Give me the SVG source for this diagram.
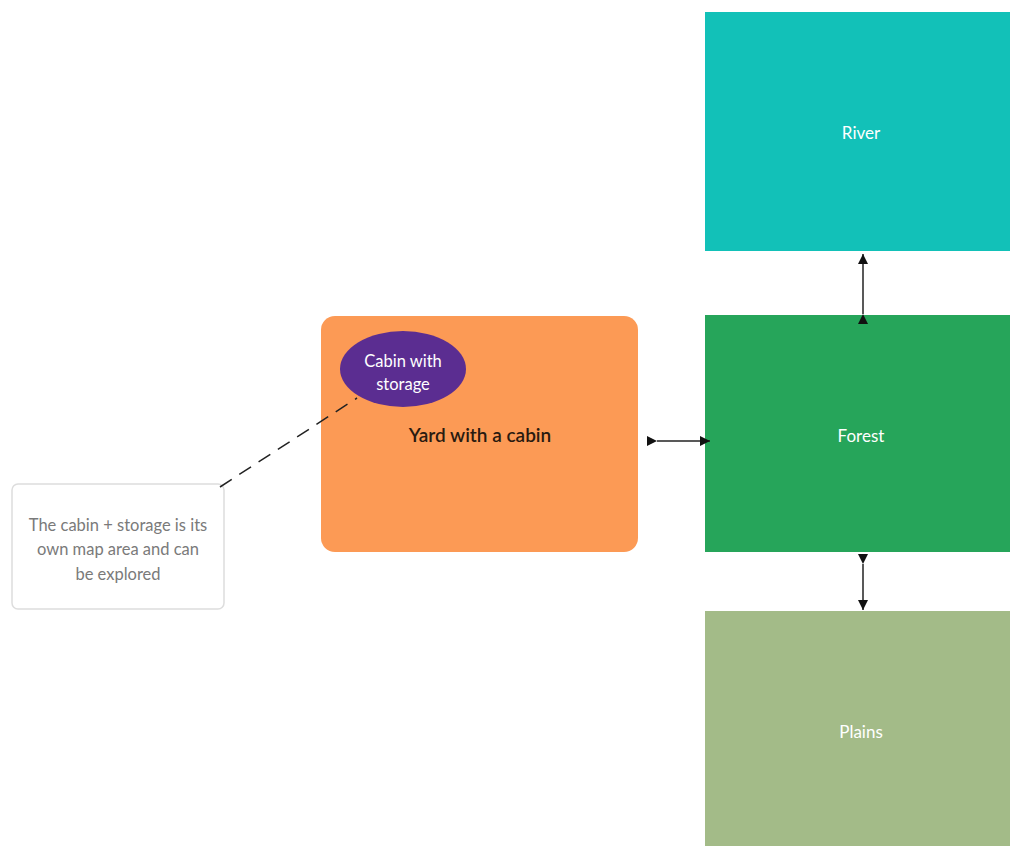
<svg xmlns="http://www.w3.org/2000/svg" width="1010" height="846" viewBox="0 0 1010 846">
<style>
text{font-family:Lato,"Liberation Sans",sans-serif;text-anchor:middle}
.area{font-size:17px;fill:#ffffff}
.note{font-size:16.5px;fill:#7a7a7a}
.cab{font-size:16.5px;fill:#ffffff}
.conn{stroke:#222;stroke-width:1.5;fill:none}
</style>
<defs>
<marker id="tri" viewBox="0 0 10 10" refX="10" refY="5" markerWidth="10" markerHeight="10" markerUnits="userSpaceOnUse" orient="auto"><path d="M0,0 L10,5 L0,10 Z" fill="#111"/></marker>
</defs>
<rect width="1010" height="846" fill="#ffffff"/>
<g id="river"><rect x="705" y="12" width="305" height="239" fill="#12c1b8"/><text class="area" x="861" y="139">River</text></g>
<g id="forest"><rect x="705" y="315" width="305" height="237" fill="#26a55a"/><text class="area" x="861" y="442">Forest</text></g>
<g id="plains"><rect x="705" y="611" width="305" height="235" fill="#a3bb88"/><text class="area" x="861" y="738">Plains</text></g>
<g id="yard"><rect x="321" y="316" width="317" height="236" rx="14" fill="#fc9a55"/><text x="480" y="442" font-size="19" font-weight="600" fill="#2a1a10">Yard with a cabin</text></g>
<g id="cabin"><ellipse cx="403" cy="369" rx="63" ry="38" fill="#5b2d91"/><text class="cab" x="403" y="367">Cabin with</text><text class="cab" x="403" y="390">storage</text></g>
<g id="note"><rect x="12" y="484" width="212" height="125" rx="6" fill="#fff" stroke="#ddd" stroke-width="1.5"/><text class="note" x="118" y="531">The cabin + storage is its</text><text class="note" x="118" y="555">own map area and can</text><text class="note" x="118" y="580">be explored</text></g>
<g id="connectors">
<line class="conn" x1="220" y1="487" x2="357" y2="398" stroke="#666" stroke-dasharray="14,9"/>
<line class="conn" x1="657" y1="441" x2="710" y2="441" marker-start="url(#tri)" marker-end="url(#tri)"/>
<line class="conn" x1="863" y1="314" x2="863" y2="254" marker-start="url(#tri)" marker-end="url(#tri)"/>
<line class="conn" x1="863" y1="564" x2="863" y2="610" marker-start="url(#tri)" marker-end="url(#tri)"/>
</g>
</svg>
